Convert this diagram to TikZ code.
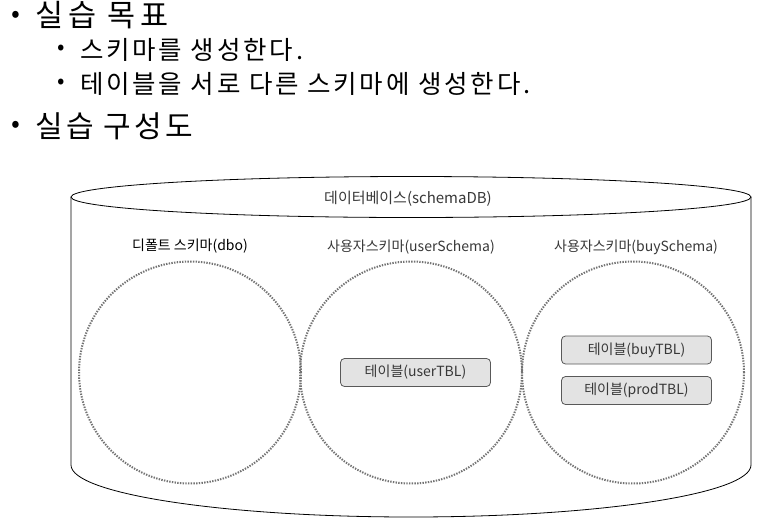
\documentclass[tikz,border=0pt]{standalone}
\usepackage{fontspec}
\setmainfont{Noto Sans CJK KR}
\newfontfamily\headfont[LetterSpace=11]{Noto Sans CJK KR}
\newfontfamily\bigheadfont[LetterSpace=16]{Noto Sans CJK KR}
\begin{document}
\begin{tikzpicture}[x=1pt,y=1pt,
  bul/.style={inner sep=0, anchor=center},
  head/.style={anchor=west, inner sep=0, font=\headfont\fontsize{30}{32}\selectfont},
  subline/.style={anchor=west, inner sep=0, font=\headfont\fontsize{25.5}{28}\selectfont},
  lbl/.style={inner sep=0, font=\fontsize{14}{16}\selectfont, text=black!78},
  schemacirc/.style={circle, minimum size=222pt, inner sep=0, draw=black!55, line width=2pt, dash pattern=on 1.4pt off 1.3pt},
  tbl/.style={draw=black!65, fill=black!11, rounded corners=4pt, minimum width=150pt, minimum height=28pt, inner sep=0, line width=0.8pt, font=\fontsize{14}{16}\selectfont, text=black!78}
]
\useasboundingbox[fill=white] (0,0) rectangle (770,-525);

% bullet text
\node[bul, font=\fontsize{26}{28}\selectfont] (b1) at (16,-17) {•};
\node[head, font=\bigheadfont\fontsize{30.5}{32}\selectfont] (t1) at (35,-15.5) {실습 목표};
\node[bul, font=\fontsize{22}{24}\selectfont] (b2) at (61,-49.5) {•};
\node[subline] (t2) at (80,-49.5) {스키마를 생성한다.};
\node[bul, font=\fontsize{22}{24}\selectfont] (b3) at (61,-84) {•};
\node[subline] (t3) at (80,-83.5) {테이블을 서로 다른 스키마에 생성한다.};
\node[bul, font=\fontsize{26}{28}\selectfont] (b4) at (16,-127) {•};
\node[head] (t4) at (35,-126) {실습 구성도};

% cylinder
\draw[line width=0.8pt] (71,-197) -- (71,-465)
  arc[start angle=180, end angle=360, x radius=340, y radius=52] -- (751,-197);
\draw[line width=0.8pt] (411,-197) ellipse[x radius=340, y radius=20.5];
\node[lbl, font=\fontsize{15}{17}\selectfont] (dblbl) at (408,-199) {데이터베이스(schemaDB)};

% schemas
\node[schemacirc] (dbo) at (190,-372.5) {};
\node[schemacirc] (user) at (411,-372.5) {};
\node[schemacirc] (buy) at (633,-372.5) {};
\node[lbl, text=black] (dbolbl) at (190,-246) {디폴트 스키마(dbo)};
\node[lbl] (userlbl) at (411,-247) {사용자스키마(userSchema)};
\node[lbl] (buylbl) at (636,-247) {사용자스키마(buySchema)};

% tables
\node[tbl] (usertbl) at (415.5,-372.5) {테이블(userTBL)};
\node[tbl] (buytbl) at (636.5,-350) {테이블(buyTBL)};
\node[tbl] (prodtbl) at (636.5,-390.5) {테이블(prodTBL)};
\end{tikzpicture}
\end{document}
